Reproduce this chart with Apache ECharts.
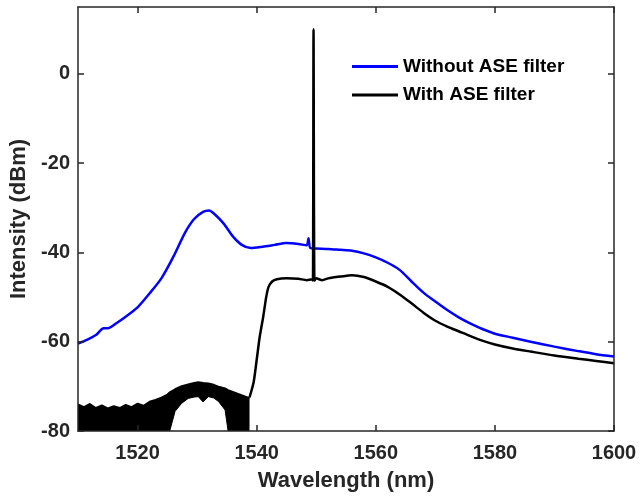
<!DOCTYPE html>
<html>
<head>
<meta charset="utf-8">
<script src="https://cdn.jsdelivr.net/npm/echarts@6/dist/echarts.min.js"></script>
<style>html,body{margin:0;padding:0;background:#fff}#c{width:640px;height:500px}</style>
</head>
<body>
<div id="c"></div>
<script>
// ---- data ----
const xTicks = [1520, 1540, 1560, 1580, 1600];
const yTicks = [-80, -60, -40, -20, 0];

const withoutX = [1510,1511.5,1513,1514.3,1515,1516.5,1518,1520,1522,1524,1526,1528,1529.5,1531,1532,1533,1534.5,1536,1537.5,1539,1541,1543,1545,1547,1548.4,1548.7,1549,1550,1552,1554,1556,1558,1560,1562,1564,1566,1568,1570,1572,1574,1576,1578,1580,1583,1586,1590,1594,1597,1600];
const withoutY = [-60.4,-59.6,-58.5,-57.0,-57.0,-55.8,-54.4,-52.3,-49.2,-45.8,-41.0,-35.5,-32.5,-30.9,-30.6,-31.5,-33.6,-36.4,-38.3,-39.0,-38.7,-38.3,-37.9,-38.1,-38.4,-36.8,-39.0,-39.1,-39.2,-39.4,-39.6,-40.2,-41.1,-42.3,-43.9,-46.5,-49.0,-51.0,-52.9,-54.6,-56.0,-57.2,-58.2,-59.1,-60.0,-61.1,-62.1,-62.8,-63.3];

const withX = [1538.8,1539.5,1540,1540.5,1541.1,1541.6,1542,1542.6,1543.4,1545,1547,1548.4,1549.3,1549.45,1549.55,1549.7,1550,1551,1552,1554,1556,1558,1560,1562,1564,1566,1568,1570,1572,1574,1576,1578,1580,1583,1586,1590,1594,1597,1600];
const withY = [-72.5,-69,-64.1,-59,-54.4,-50,-47.7,-46.5,-46.0,-45.8,-45.9,-46.2,-46.0,-46.3,10,-46.3,-45.8,-46.2,-45.8,-45.4,-45.1,-45.5,-46.5,-47.7,-49.4,-51.4,-53.5,-55.3,-56.6,-57.7,-58.8,-59.8,-60.6,-61.5,-62.2,-63.1,-63.8,-64.3,-64.8];

// noise floor (with ASE filter, below OSA sensitivity): upper envelope and hole
const noiseX = [1510,1511,1512,1513,1514,1515,1516,1517,1518,1519,1520,1521,1522,1523,1524,1525,1525.4,1526.3,1527.4,1528.5,1529.5,1530.2,1531,1531.9,1532.8,1533.6,1534.7,1535.2,1536,1537,1538,1538.8];
const noiseUpper = [-74.0,-74.6,-73.9,-74.8,-74.2,-74.9,-74.4,-74.8,-74.1,-74.6,-73.8,-74.3,-73.4,-73.0,-72.5,-71.8,-71.3,-70.6,-69.9,-69.5,-69.2,-69.0,-69.2,-69.3,-69.6,-70.0,-70.4,-70.8,-71.2,-71.7,-72.2,-72.6];
const holeX = [1525.4,1526.3,1527.4,1528.5,1529.5,1530.2,1531,1531.9,1532.8,1533.6,1534.7,1535.2];
const holeLower = [-80,-75.6,-73.8,-72.7,-72.4,-72.3,-73.5,-72.3,-72.6,-73.4,-75.3,-80];

const seriesNames = ['Without ASE filter', 'With ASE filter'];
// ---------------------------------------

const zip = (xs, ys) => xs.map((x, i) => [x, ys[i]]);
const FONT = 'Liberation Sans';
const AX = '#262626';

const chart = echarts.init(document.getElementById('c'), null, {renderer: 'canvas'});
const axisCommon = {
  axisLine: {show: true, onZero: false, lineStyle: {color: AX, width: 1.5}},
  axisTick: {show: true, inside: true, length: 6, lineStyle: {color: AX, width: 1.5}},
  splitLine: {show: false}
};
const plain = v => String(v);
chart.setOption({
  animation: false,
  backgroundColor: '#fff',
  grid: {left: 78, right: 26, top: 7, bottom: 69, containLabel: false},
  legend: {
    data: seriesNames, orient: 'vertical', left: 352, top: 57,
    icon: 'rect', itemWidth: 46, itemHeight: 3, itemGap: 9.5, padding: 0,
    textStyle: {fontFamily: FONT, fontWeight: 'bold', fontSize: 19, color: '#000'}
  },
  xAxis: [
    Object.assign({}, axisCommon, {
      type: 'value', min: 1510, max: 1600, position: 'bottom', z: 10,
      name: 'Wavelength (nm)', nameLocation: 'middle', nameGap: 39,
      nameTextStyle: {fontFamily: FONT, fontWeight: 'bold', fontSize: 22, color: AX},
      axisTick: Object.assign({}, axisCommon.axisTick, {customValues: xTicks}),
      axisLabel: {customValues: xTicks, formatter: plain, margin: 12, fontFamily: FONT, fontWeight: 'bold', fontSize: 20, color: AX}
    }),
    Object.assign({}, axisCommon, {
      type: 'value', min: 1510, max: 1600, position: 'top', z: 10,
      axisTick: Object.assign({}, axisCommon.axisTick, {customValues: xTicks}),
      axisLabel: {show: false}
    })
  ],
  yAxis: [
    Object.assign({}, axisCommon, {
      type: 'value', min: -80, max: 15, position: 'left', z: 10,
      name: 'Intensity (dBm)', nameLocation: 'middle', nameGap: 44,
      nameTextStyle: {fontFamily: FONT, fontWeight: 'bold', fontSize: 22, color: AX},
      axisTick: Object.assign({}, axisCommon.axisTick, {customValues: yTicks}),
      axisLabel: {customValues: yTicks, formatter: plain, margin: 8, fontFamily: FONT, fontWeight: 'bold', fontSize: 20, color: AX}
    }),
    Object.assign({}, axisCommon, {
      type: 'value', min: -80, max: 15, position: 'right', z: 10,
      axisTick: Object.assign({}, axisCommon.axisTick, {customValues: yTicks}),
      axisLabel: {show: false}
    })
  ],
  series: [
    {
      name: seriesNames[0], type: 'line', data: zip(withoutX, withoutY),
      showSymbol: false, symbol: 'none', color: '#0000ff',
      smooth: 0.25,
      lineStyle: {color: '#0000ff', width: 2.5}
    },
    {
      name: 'noise', type: 'line', data: zip(noiseX, noiseUpper),
      showSymbol: false, symbol: 'none', color: '#000',
      lineStyle: {color: '#000', width: 1.5},
      areaStyle: {color: '#000', opacity: 1, origin: 'start'}
    },
    {
      name: 'noiseHole', type: 'line', data: zip(holeX, holeLower),
      showSymbol: false, symbol: 'none', color: '#fff',
      lineStyle: {color: '#000', width: 1},
      areaStyle: {color: '#fff', opacity: 1, origin: 'start'}
    },
    {
      name: seriesNames[1], type: 'line', data: zip(withX, withY),
      showSymbol: false, symbol: 'none', color: '#000',
      smooth: 0.2,
      lineStyle: {color: '#000', width: 2.5}
    }
  ]
});
</script>
</body>
</html>
